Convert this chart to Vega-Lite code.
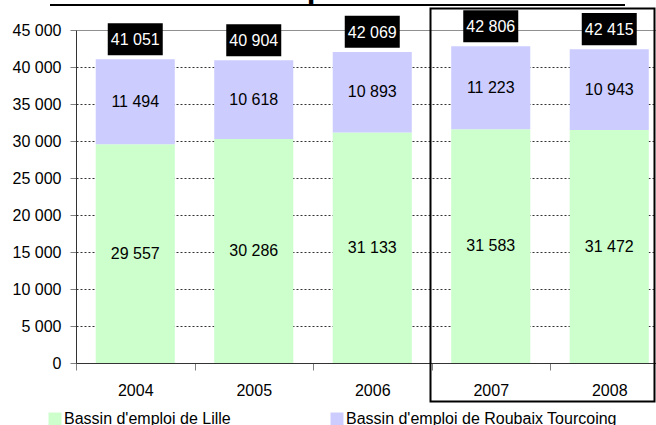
{
  "$schema": "https://vega.github.io/schema/vega-lite/v6.json",
  "width": 580,
  "height": 333,
  "autosize": "none",
  "padding": {"left": 76, "top": 30, "right": 0, "bottom": 62},
  "config": {
    "locale": {"number": {"decimal": ",", "thousands": " ", "grouping": [3], "currency": ["", " €"]}},
    "font": "Liberation Sans",
    "view": {"stroke": null},
    "background": "white",
    "axisX": {
      "title": null,
      "labelAngle": 0,
      "tickBand": "extent",
      "tickSize": 7,
      "tickColor": "#808080",
      "domainColor": "#333333",
      "labelFontSize": 16,
      "labelFont": "Liberation Sans",
      "labelColor": "black",
      "labelPadding": 12,
      "grid": false
    },
    "axisY": {
      "title": null,
      "labelOverlap": false,
      "tickSize": 6,
      "tickColor": "#808080",
      "domainColor": "#333333",
      "labelFontSize": 16,
      "labelFont": "Liberation Sans",
      "labelColor": "black",
      "labelPadding": 9,
      "grid": true,
      "gridColor": "#333333",
      "gridDash": [2, 2],
      "gridWidth": 1,
      "tickCount": 20
    }
  },
  "title": {
    "text": "Evolution de l'emploi salarié associatif",
    "font": "Liberation Sans",
    "fontSize": 31.3,
    "fontWeight": "bold",
    "color": "black",
    "anchor": "start",
    "frame": "group",
    "baseline": "alphabetic",
    "offset": 0,
    "dx": -27,
    "dy": 25
  },
  "datasets": {
    "emploi": [
      {"year": "2004", "series": "Bassin d'emploi de Lille", "value": 29557},
      {"year": "2004", "series": "Bassin d'emploi de Roubaix Tourcoing", "value": 11494},
      {"year": "2005", "series": "Bassin d'emploi de Lille", "value": 30286},
      {"year": "2005", "series": "Bassin d'emploi de Roubaix Tourcoing", "value": 10618},
      {"year": "2006", "series": "Bassin d'emploi de Lille", "value": 31133},
      {"year": "2006", "series": "Bassin d'emploi de Roubaix Tourcoing", "value": 10893},
      {"year": "2007", "series": "Bassin d'emploi de Lille", "value": 31583},
      {"year": "2007", "series": "Bassin d'emploi de Roubaix Tourcoing", "value": 11223},
      {"year": "2008", "series": "Bassin d'emploi de Lille", "value": 31472},
      {"year": "2008", "series": "Bassin d'emploi de Roubaix Tourcoing", "value": 10943}
    ],
    "totaux": [
      {"year": "2004", "total": 41051},
      {"year": "2005", "total": 40904},
      {"year": "2006", "total": 42069},
      {"year": "2007", "total": 42806},
      {"year": "2008", "total": 42415}
    ],
    "cadre": [
      {"debut": "2007", "fin": "2008", "haut": 47900, "bas": -5200}
    ]
  },
  "layer": [
    {
      "data": {"name": "emploi"},
      "mark": {"type": "bar", "width": {"band": 0.667}},
      "encoding": {
        "x": {
          "field": "year",
          "type": "nominal",
          "scale": {"domain": ["2004", "2005", "2006", "2007", "2008"], "range": [0, 592.5], "paddingInner": 0, "paddingOuter": 0}
        },
        "y": {
          "field": "value",
          "type": "quantitative",
          "stack": "zero",
          "scale": {"domain": [0, 45000], "nice": false},
          "axis": {
            "values": [0, 5000, 10000, 15000, 20000, 25000, 30000, 35000, 40000, 45000],
            "format": ",d",
            "gridColor": {"condition": {"test": "datum.value === 45000", "value": "#909090"}, "value": "#333333"},
            "gridDash": {"condition": {"test": "datum.value === 45000", "value": []}, "value": [2, 2]}
          }
        },
        "color": {
          "field": "series",
          "type": "nominal",
          "scale": {"domain": ["Bassin d'emploi de Lille", "Bassin d'emploi de Roubaix Tourcoing"], "range": ["#CCFFCC", "#CCCCFF"]},
          "legend": {
            "orient": "none",
            "legendX": -29,
            "legendY": 381,
            "direction": "horizontal",
            "title": null,
            "symbolType": "square",
            "symbolSize": 169,
            "symbolStrokeWidth": 0,
            "symbolOpacity": 1,
            "labelFontSize": 16,
            "labelFont": "Liberation Sans",
            "labelColor": "black",
            "labelOffset": 1,
            "columnPadding": 98,
            "labelLimit": 400
          }
        },
        "order": {"field": "series", "sort": "ascending"}
      }
    },
    {
      "data": {"name": "emploi"},
      "transform": [
        {"stack": "value", "groupby": ["year"], "sort": [{"field": "series", "order": "ascending"}], "as": ["v0", "v1"]},
        {"calculate": "(datum.v0 + datum.v1) / 2", "as": "milieu"}
      ],
      "mark": {"type": "text", "fontSize": 16, "font": "Liberation Sans", "color": "black", "baseline": "middle", "align": "center"},
      "encoding": {
        "x": {"field": "year", "type": "nominal"},
        "y": {"field": "milieu", "type": "quantitative"},
        "text": {"field": "value", "type": "quantitative", "format": ",d"}
      }
    },
    {
      "data": {"name": "totaux"},
      "mark": {"type": "point", "shape": "M-1,-0.582L1,-0.582L1,0.582L-1,0.582Z", "size": 3025, "filled": true, "color": "black", "opacity": 1, "strokeWidth": 0, "yOffset": -20},
      "encoding": {
        "x": {"field": "year", "type": "nominal"},
        "y": {"field": "total", "type": "quantitative"}
      }
    },
    {
      "data": {"name": "totaux"},
      "mark": {"type": "text", "fontSize": 16, "font": "Liberation Sans", "color": "white", "baseline": "middle", "align": "center", "yOffset": -19},
      "encoding": {
        "x": {"field": "year", "type": "nominal"},
        "y": {"field": "total", "type": "quantitative"},
        "text": {"field": "total", "type": "quantitative", "format": ",d"}
      }
    },
    {
      "data": {"name": "cadre"},
      "mark": {"type": "rect", "filled": false, "color": "black", "strokeWidth": 2, "xOffset": -1, "x2Offset": -14},
      "encoding": {
        "x": {"field": "debut", "type": "nominal", "bandPosition": 0},
        "x2": {"field": "fin", "bandPosition": 1},
        "y": {"field": "haut", "type": "quantitative"},
        "y2": {"field": "bas"}
      }
    },
    {
      "data": {"values": [{}]},
      "mark": {"type": "rule", "color": "black", "strokeWidth": 2, "xOffset": -26, "x2Offset": -43.5},
      "encoding": {
        "x": {"datum": "2004", "type": "nominal", "bandPosition": 0},
        "x2": {"datum": "2008", "bandPosition": 1},
        "y": {"datum": 48378, "type": "quantitative"}
      }
    }
  ]
}
